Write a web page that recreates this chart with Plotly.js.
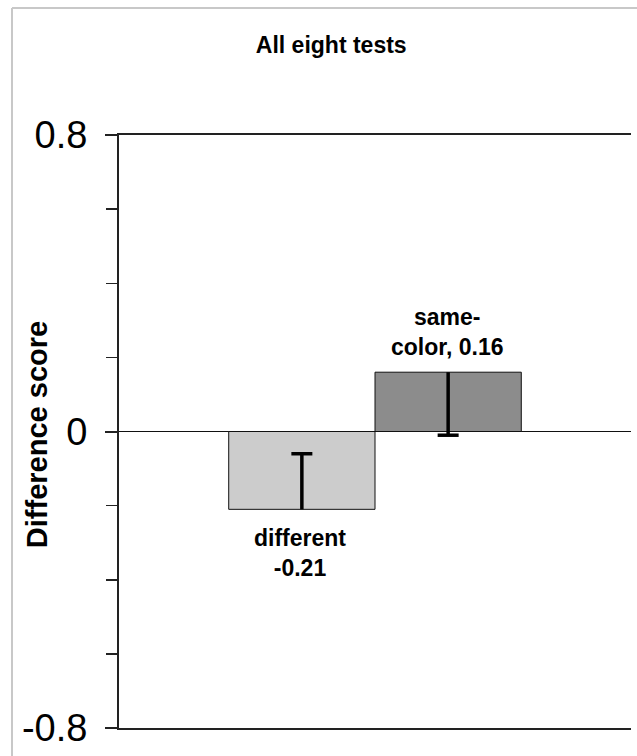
<!DOCTYPE html>
<html>
<head>
<meta charset="utf-8">
<script src="https://cdn.plot.ly/plotly-3.0.1.min.js"></script>
<style>
  html, body { margin: 0; padding: 0; background: #ffffff; }
  #chart { width: 637px; height: 756px; }
</style>
</head>
<body>
<div id="chart"></div>
<script>
// ---- data ----
const categories = ["different", "same-color"];
const positions = [0, 1];
const values = [-0.21, 0.16];
const errPlus = [0.15, 0];
const errMinus = [0, 0.17];
const barLabels = ["different<br>-0.21", "same-<br>color, 0.16"];
const yTickVals = [-0.8, 0, 0.8];
const yTickText = ["-0.8", "0", "0.8"];
const barColors = ["#cccccc", "#8c8c8c"];

const FONT = "Liberation Sans, Arial, sans-serif";

const capY = values.map((v, i) => v + errPlus[i] - errMinus[i]);

const bars = {
  type: "bar",
  x: positions,
  y: values,
  width: 1,
  text: categories,
  textposition: "none",
  marker: { color: barColors, line: { color: "#111111", width: 1 } },
  error_y: {
    type: "data",
    symmetric: false,
    array: errPlus,
    arrayminus: errMinus,
    color: "#000000",
    thickness: 3.5,
    width: 0
  },
  hoverinfo: "x+y",
  showlegend: false
};

const caps = {
  type: "scatter",
  mode: "markers",
  x: positions,
  y: capY,
  marker: { symbol: "line-ew", size: 15, color: "#000000", line: { color: "#000000", width: 3.5 } },
  hoverinfo: "skip",
  showlegend: false
};

const annotations = [
  {
    x: positions[0], y: values[0], xref: "x", yref: "y",
    text: "<b>" + barLabels[0] + "</b>", showarrow: false,
    yanchor: "top", xanchor: "center", yshift: -14, xshift: -2,
    font: { family: FONT, size: 23, color: "#000000" }
  },
  {
    x: positions[1], y: values[1], xref: "x", yref: "y",
    text: "<b>" + barLabels[1] + "</b>", showarrow: false,
    yanchor: "bottom", xanchor: "center", yshift: 10, xshift: -1,
    font: { family: FONT, size: 23, color: "#000000" }
  },
  {
    x: -0.16, y: 0.494, xref: "paper", yref: "paper",
    text: "<b>Difference score</b>", showarrow: false, textangle: -90,
    xanchor: "center", yanchor: "middle",
    font: { family: FONT, size: 29, color: "#000000" }
  }
];

const layout = {
  width: 637,
  height: 756,
  margin: { l: 119, r: 6, t: 135, b: 28, pad: 0 },
  paper_bgcolor: "#ffffff",
  plot_bgcolor: "#ffffff",
  title: {
    text: "<b>All eight tests</b>",
    xref: "container", yref: "container",
    x: 0.52, y: 1 - 45 / 756, xanchor: "center", yanchor: "middle",
    font: { family: FONT, size: 23, color: "#000000" }
  },
  xaxis: {
    range: [-1.25, 2.25],
    showticklabels: false,
    ticks: "",
    showgrid: false,
    zeroline: false,
    showline: true,
    mirror: true,
    linecolor: "#222222",
    linewidth: 2,
    fixedrange: true
  },
  yaxis: {
    range: [-0.8, 0.8],
    tickmode: "array",
    tickvals: yTickVals,
    ticktext: yTickText,
    ticks: "outside",
    ticklen: 12,
    tickwidth: 2,
    tickcolor: "#222222",
    ticklabelstandoff: 10,
    minor: { dtick: 0.2, tick0: 0, ticks: "outside", ticklen: 11, tickwidth: 1.5, tickcolor: "#222222", showgrid: false },
    showgrid: false,
    zeroline: true,
    zerolinecolor: "#111111",
    zerolinewidth: 1.5,
    showline: true,
    linecolor: "#222222",
    linewidth: 2,
    tickfont: { family: FONT, size: 38, color: "#000000" },
    fixedrange: true
  },
  shapes: [
    { type: "line", xref: "paper", yref: "paper", x0: -0.209, x1: 1.2, y0: 1.214, y1: 1.214,
      line: { color: "#c8c8c8", width: 2 } },
    { type: "line", xref: "paper", yref: "paper", x0: -0.209, x1: -0.209, y0: 1.214, y1: -0.2,
      line: { color: "#c8c8c8", width: 2 } }
  ],
  annotations: annotations,
  showlegend: false
};

Plotly.newPlot("chart", [bars, caps], layout, { displayModeBar: false, staticPlot: true });
</script>
</body>
</html>
